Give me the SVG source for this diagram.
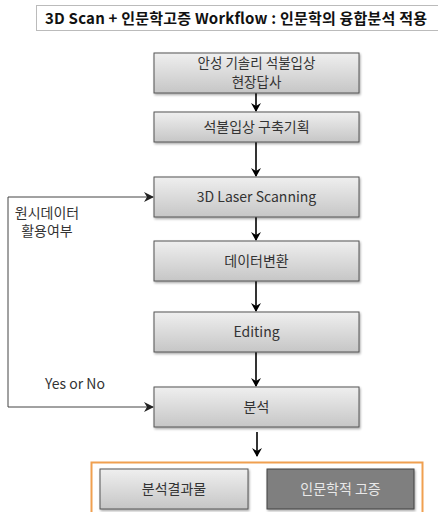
<svg xmlns="http://www.w3.org/2000/svg" width="438" height="512" viewBox="0 0 438 512">
<style>
text{font-family:"Noto Sans CJK KR","Malgun Gothic",sans-serif;font-size:14px;fill:#333;}
.c{text-anchor:middle;}
.box{fill:url(#g);stroke:#555;stroke-width:1;}
.ln{stroke:#000;stroke-width:1.6;fill:none;marker-end:url(#ah);}
.fb{stroke:#444;stroke-width:1;fill:none;marker-end:url(#ah2);}
</style>
<defs>
<linearGradient id="g" x1="0" y1="0" x2="0" y2="1">
<stop offset="0" stop-color="#efefef"/>
<stop offset="1" stop-color="#c6c6c6"/>
</linearGradient>
<filter id="sh" x="-5%" y="-10%" width="115%" height="130%">
<feDropShadow dx="1" dy="1.5" stdDeviation="1" flood-color="#000" flood-opacity="0.35"/>
</filter>
<marker id="ah" markerWidth="10" markerHeight="10" refX="8" refY="5" orient="auto" markerUnits="userSpaceOnUse">
<path d="M0,0 L9,5 L0,10 L3,5 Z" fill="#000"/>
</marker>
<marker id="ah2" markerWidth="12" markerHeight="10" refX="9" refY="5" orient="auto" markerUnits="userSpaceOnUse">
<path d="M0,0 L10,5 L0,10 L3,5 Z" fill="#222"/>
</marker>
</defs>
<rect width="438" height="512" fill="#fff"/>
<g id="title">
<rect x="36.5" y="5.5" width="410" height="25" fill="#fff" stroke="#777" stroke-dasharray="1,1"/>
<text x="45" y="24" style="font-weight:bold;font-size:15px;fill:#111;" textLength="382" lengthAdjust="spacing">3D Scan + 인문학고증 Workflow : 인문학의 융합분석 적용</text>
</g>
<g id="connectors">
<path class="ln" d="M256,93 V111"/>
<path class="ln" d="M256,142 V176"/>
<path class="ln" d="M256,217 V240"/>
<path class="ln" d="M256,281 V311"/>
<path class="ln" d="M256,352 V386"/>
<path class="ln" d="M257,432 V456"/>
<path class="fb" d="M8,407 V197 H153"/>
<path class="fb" d="M8,407 H153"/>
</g>
<g id="n1"><rect class="box" x="154" y="53" width="205" height="40" filter="url(#sh)"/><text class="c" x="256.5" y="68" style="font-size:13.5px">안성 기솔리 석불입상</text><text class="c" x="256.5" y="87" style="font-size:13.5px">현장답사</text></g>
<g id="n2"><rect class="box" x="154" y="112" width="205" height="30" filter="url(#sh)"/><text class="c" x="256.5" y="132">석불입상 구축기획</text></g>
<g id="n3"><rect class="box" x="154" y="177" width="205" height="40" filter="url(#sh)"/><text class="c" x="256.5" y="202">3D Laser Scanning</text></g>
<g id="n4"><rect class="box" x="154" y="241" width="205" height="40" filter="url(#sh)"/><text class="c" x="256.5" y="266">데이터변환</text></g>
<g id="n5"><rect class="box" x="154" y="312" width="205" height="40" filter="url(#sh)"/><text class="c" x="256.5" y="337">Editing</text></g>
<g id="n6"><rect class="box" x="154" y="387" width="205" height="40" filter="url(#sh)"/><text class="c" x="256.5" y="412">분석</text></g>
<g id="lbl1"><text class="c" x="47" y="218">원시데이터</text><text class="c" x="47" y="236">활용여부</text></g>
<g id="lbl2"><text x="45" y="389">Yes or No</text></g>
<g id="group">
<rect x="91.5" y="462.5" width="331" height="60" fill="#fff" stroke="#f0a050" stroke-width="2"/>
<g id="n7"><rect class="box" x="100" y="469" width="148" height="40" filter="url(#sh)"/><text class="c" x="174" y="494">분석결과물</text></g>
<g id="n8"><rect x="267" y="469" width="147" height="40" fill="#7f7f7f" stroke="#444" filter="url(#sh)"/><text class="c" x="340.5" y="494" style="fill:#e8e8e8;">인문학적 고증</text></g>
</g>
</svg>
